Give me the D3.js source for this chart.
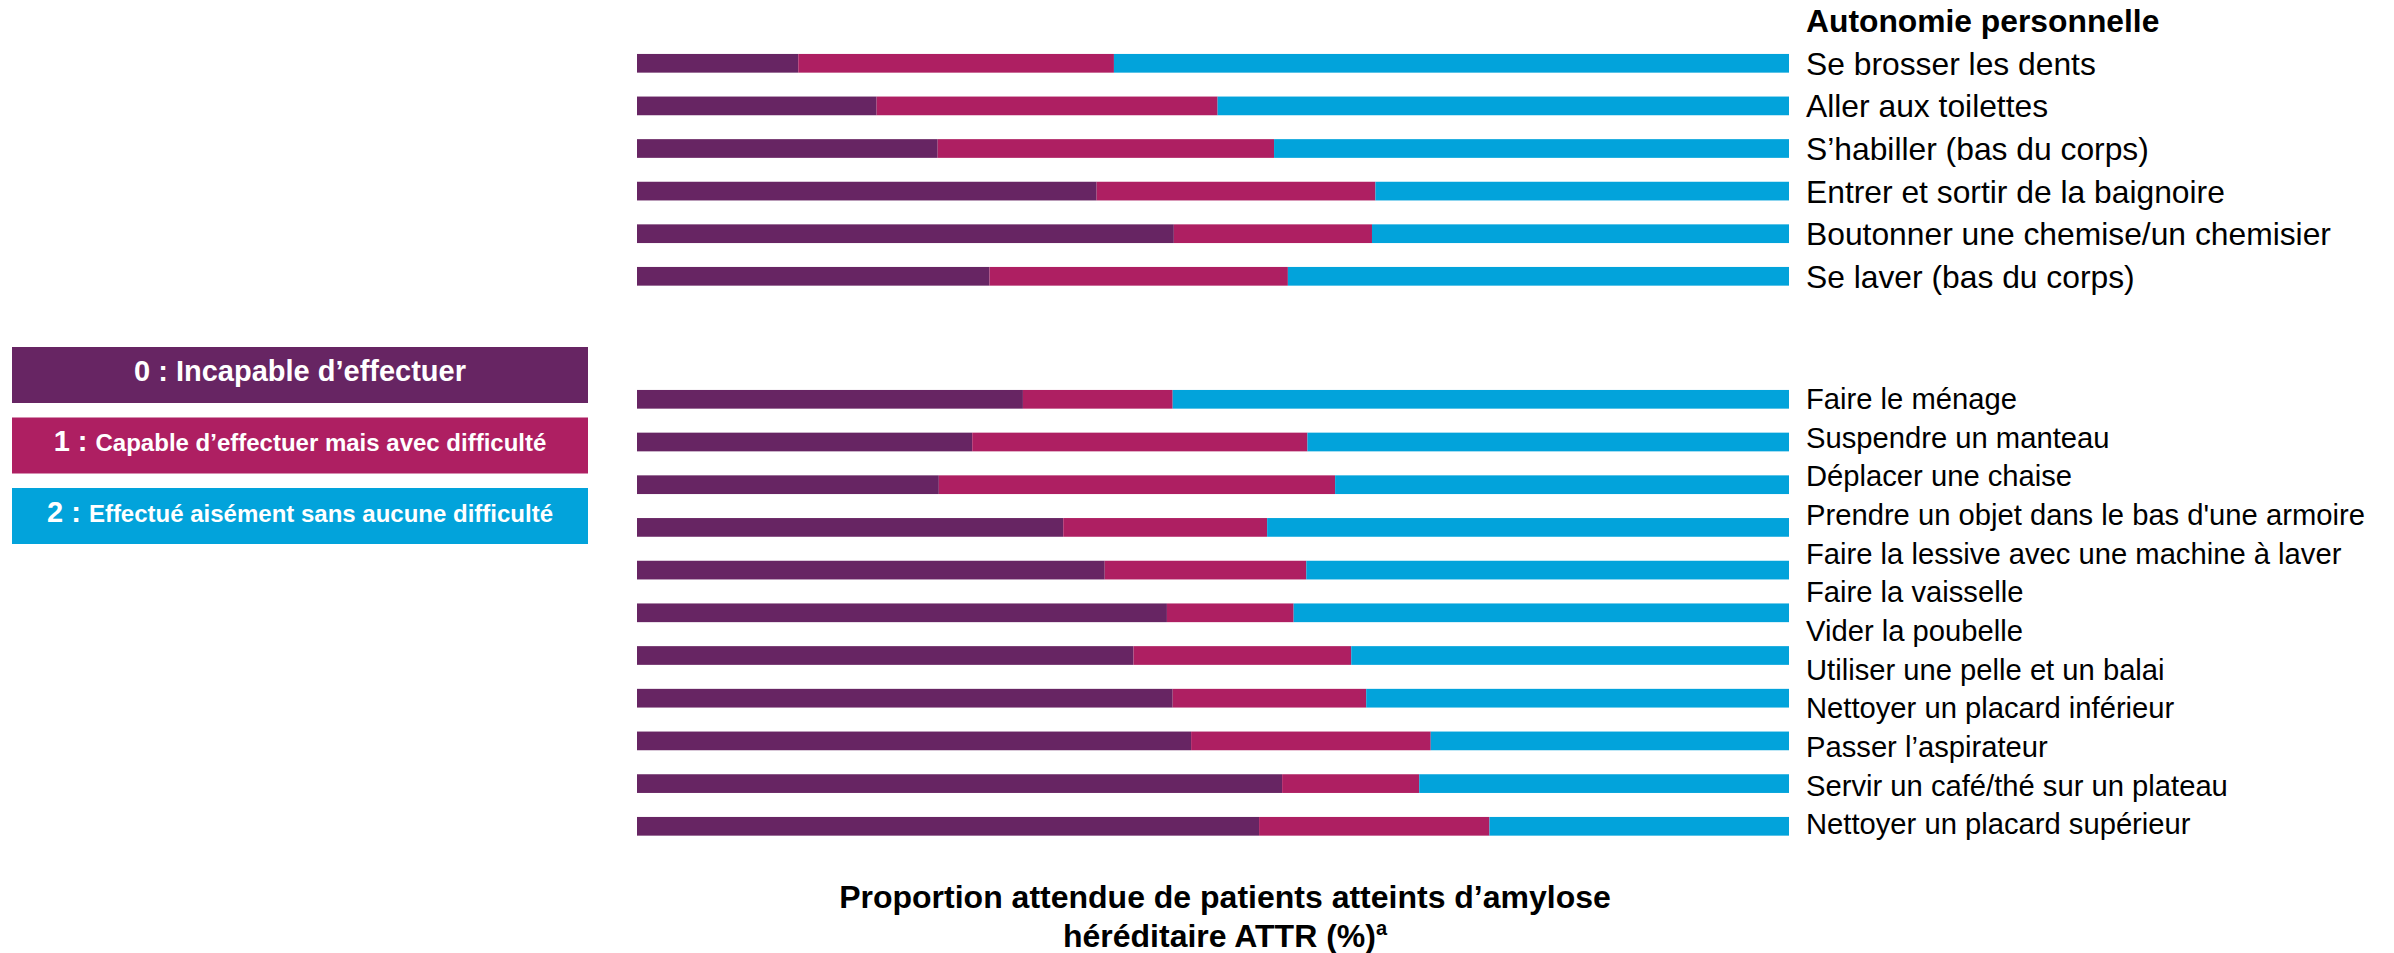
<!DOCTYPE html>
<html>
<head>
<meta charset="utf-8">
<script src="https://cdn.jsdelivr.net/npm/d3@7"></script>
<style>
  html, body { margin: 0; padding: 0; background: #ffffff; }
  svg { display: block; }
  text { font-family: "Liberation Sans", Arial, Helvetica, sans-serif; }
</style>
</head>
<body>
<svg id="chart" width="2394" height="953"></svg>
<script>
// ---------- DATA ----------
const seriesKeys = ["incapable", "difficulty", "easy"];
const seriesColors = ["#672563", "#AE1F62", "#02A3DB"];

const legendNumbers = ["0 : ", "1 : ", "2 : "];
const legendTexts = ["Incapable d’effectuer", "Capable d’effectuer mais avec difficulté", "Effectué aisément sans aucune difficulté"];

const selfCareHeader = "Autonomie personnelle";
const selfCareTasks = [
  "Se brosser les dents",
  "Aller aux toilettes",
  "S’habiller (bas du corps)",
  "Entrer et sortir de la baignoire",
  "Boutonner une chemise/un chemisier",
  "Se laver (bas du corps)"
];
const selfCareIncapable  = [14.0, 20.8, 26.1, 39.9, 46.6, 30.6];
const selfCareDifficulty = [27.4, 29.6, 29.2, 24.2, 17.2, 25.9];
const selfCareEasy       = [58.6, 49.6, 44.7, 35.9, 36.2, 43.5];

const householdTasks = [
  "Faire le ménage",
  "Suspendre un manteau",
  "Déplacer une chaise",
  "Prendre un objet dans le bas d'une armoire",
  "Faire la lessive avec une machine à laver",
  "Faire la vaisselle",
  "Vider la poubelle",
  "Utiliser une pelle et un balai",
  "Nettoyer un placard inférieur",
  "Passer l’aspirateur",
  "Servir un café/thé sur un plateau",
  "Nettoyer un placard supérieur"
];
// the reference shows 11 bars in this block
const householdIncapable  = [33.5, 29.1, 26.2, 37.0, 40.6, 46.0, 43.1, 46.5, 48.1, 56.0, 54.0];
const householdDifficulty = [13.0, 29.1, 34.4, 17.7, 17.5, 11.0, 18.9, 16.8, 20.8, 11.9, 20.0];
const householdEasy       = [53.5, 41.8, 39.4, 45.3, 41.9, 43.0, 38.0, 36.7, 31.1, 32.1, 26.0];

const axisTitleLine1 = "Proportion attendue de patients atteints d’amylose";
const axisTitleLine2 = "héréditaire ATTR (%)";
const axisTitleSup = "a";

// ---------- DRAW ----------
const svg = d3.select("#chart");
const x = d3.scaleLinear().domain([0, 100]).range([637, 1789]);
const color = d3.scaleOrdinal().domain(seriesKeys).range(seriesColors);
const stack = d3.stack().keys(seriesKeys);

function bandFor(n, firstCenter, step) {
  const p = 1 - 18.7 / step;
  return d3.scaleBand()
    .domain(d3.range(n))
    .range([firstCenter - step / 2, firstCenter - step / 2 + n * step])
    .paddingInner(p).paddingOuter(p / 2);
}

function drawBlock(inc, dif, easy, firstCenter, step) {
  const rows = inc.map((v, i) => ({ idx: i, incapable: v, difficulty: dif[i], easy: easy[i] }));
  const y = bandFor(rows.length, firstCenter, step);
  const g = svg.append("g");
  g.selectAll("g.layer")
    .data(stack(rows))
    .join("g")
    .attr("class", "layer")
    .attr("fill", d => color(d.key))
    .selectAll("rect")
    .data(d => d)
    .join("rect")
    .attr("x", d => x(d[0]))
    .attr("width", d => x(d[1]) - x(d[0]))
    .attr("y", d => y(d.data.idx))
    .attr("height", y.bandwidth());
}

function drawLabels(labels, firstCenter, step, fontSize, header) {
  const yl = d3.scalePoint().domain(d3.range(labels.length))
    .range([firstCenter, firstCenter + (labels.length - 1) * step]);
  const g = svg.append("g");
  g.selectAll("text.lab")
    .data(labels)
    .join("text")
    .attr("class", "lab")
    .attr("x", 1806)
    .attr("y", (d, i) => yl(i))
    .attr("dy", "0.36em")
    .attr("font-size", fontSize)
    .attr("fill", "#000")
    .text(d => d);
  if (header) {
    g.append("text")
      .attr("x", 1806)
      .attr("y", firstCenter - step)
      .attr("dy", "0.36em")
      .attr("font-size", fontSize)
      .attr("font-weight", "bold")
      .attr("fill", "#000")
      .text(header);
  }
}

// self-care block
drawBlock(selfCareIncapable, selfCareDifficulty, selfCareEasy, 63.3, 42.6);
drawLabels(selfCareTasks, 63.3, 42.6, 31.8, selfCareHeader);

// household block
drawBlock(householdIncapable, householdDifficulty, householdEasy, 399.3, 42.7);
drawLabels(householdTasks, 398.5, 38.65, 29.2, null);

// legend
const legend = svg.append("g");
const ly = d3.scalePoint().domain(d3.range(3)).range([375, 516]);
const lg = legend.selectAll("g").data(seriesKeys).join("g")
  .attr("transform", (d, i) => `translate(0,${ly(i)})`);
lg.append("rect")
  .attr("x", 12).attr("y", -28).attr("width", 576).attr("height", 56)
  .attr("fill", d => color(d));
const lt = lg.append("text")
  .attr("x", 300).attr("y", 0).attr("dy", "0.37em")
  .attr("text-anchor", "middle")
  .attr("font-weight", "bold")
  .attr("fill", "#fff");
lt.append("tspan").attr("font-size", 29).text((d, i) => legendNumbers[i]);
lt.append("tspan").attr("font-size", (d, i) => i === 0 ? 29 : 24).text((d, i) => legendTexts[i]);

// axis title
const t = svg.append("text")
  .attr("x", 1225).attr("y", 908)
  .attr("text-anchor", "middle")
  .attr("font-size", 32)
  .attr("font-weight", "bold")
  .attr("fill", "#000");
t.append("tspan").attr("x", 1225).attr("y", 908).text(axisTitleLine1);
t.append("tspan").attr("x", 1225).attr("y", 947).text(axisTitleLine2);
t.append("tspan").attr("font-size", 20).attr("dy", -12).text(axisTitleSup);
</script>
</body>
</html>
